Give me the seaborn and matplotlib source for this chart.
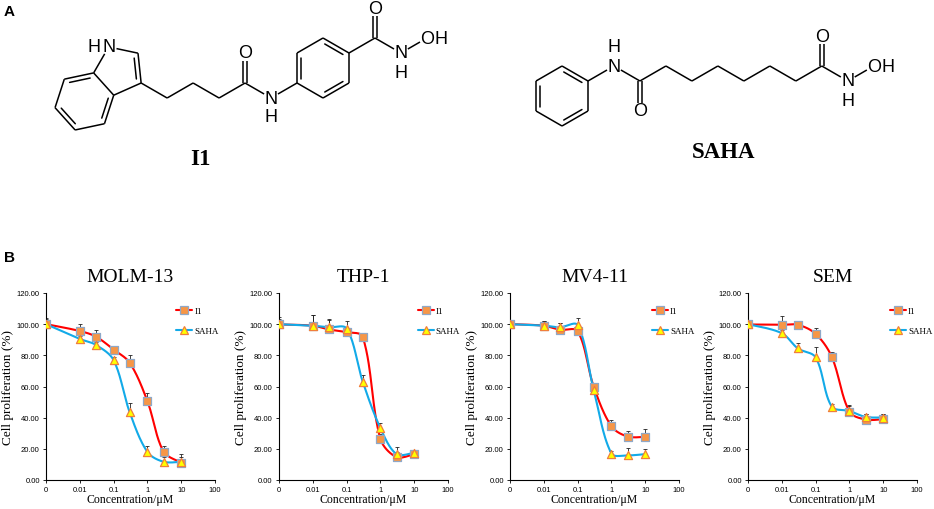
import numpy as np
import matplotlib
matplotlib.use("Agg")
import matplotlib.pyplot as plt
from matplotlib.lines import Line2D
from matplotlib.ticker import NullLocator, FormatStrFormatter
import seaborn as sns

# concentrations (uM) and readouts (% proliferation, mean and upper error)
conc = [0, 0.01, 0.03, 0.1, 0.3, 1, 3, 10]
xtick_vals = [0, 0.01, 0.1, 1, 10, 100]
xtick_labels = ["0", "0.01", "0.1", "1", "10", "100"]
yticks = [0, 20, 40, 60, 80, 100, 120]
cell_lines = ["MOLM-13", "THP-1", "MV4-11", "SEM"]
compounds = ["I1", "SAHA"]

molm13_i1 = [100, 95.6, 92.0, 83.7, 75.2, 50.6, 18.2, 11.2]
molm13_i1_err = [4.2, 4.4, 4.4, 2.5, 5.0, 5.0, 3.8, 5.5]
molm13_saha = [100, 90.5, 86.7, 76.9, 43.4, 18.0, 11.7, 11.7]
molm13_saha_err = [3.0, 2.0, 2.0, 2.0, 6.0, 3.6, 3.0, 3.0]

thp1_i1 = [99.8, 99.0, 96.6, 94.9, 91.9, 26.4, 14.7, 16.6]
thp1_i1_err = [5.0, 6.8, 6.0, 2.0, 1.5, 3.0, 3.0, 2.0]
thp1_saha = [100, 99.0, 98.0, 97.2, 63.1, 33.3, 16.6, 17.5]
thp1_saha_err = [3.0, 6.8, 5.2, 5.0, 4.0, 3.2, 4.7, 1.5]

mv411_i1 = [100, 99.0, 96.4, 95.5, 59.9, 34.5, 27.9, 27.7]
mv411_i1_err = [2.0, 3.3, 4.6, 2.0, 1.5, 4.0, 3.7, 5.0]
mv411_saha = [100, 99.1, 98.0, 99.4, 57.8, 17.0, 15.8, 16.6]
mv411_saha_err = [2.0, 3.0, 3.0, 4.6, 1.5, 1.5, 4.5, 3.0]

sem_i1 = [99.8, 99.6, 99.6, 93.8, 79.1, 43.9, 38.8, 39.0]
sem_i1_err = [2.0, 5.5, 2.3, 4.0, 3.2, 4.3, 3.4, 3.6]
sem_saha = [100, 94.2, 84.4, 78.7, 47.1, 44.3, 40.5, 40.1]
sem_saha_err = [2.0, 2.2, 3.6, 6.8, 1.5, 3.0, 1.7, 2.5]

i1_series = [(molm13_i1, molm13_i1_err), (thp1_i1, thp1_i1_err),
             (mv411_i1, mv411_i1_err), (sem_i1, sem_i1_err)]
saha_series = [(molm13_saha, molm13_saha_err), (thp1_saha, thp1_saha_err),
               (mv411_saha, mv411_saha_err), (sem_saha, sem_saha_err)]

I1_LINE, I1_FACE, I1_EDGE = "#FF0000", "#F79646", "#8FA8C8"
SAHA_LINE, SAHA_FACE, SAHA_EDGE = "#12AAE8", "#FFFF00", "#F07F3C"
SERIF = ["Liberation Serif", "DejaVu Serif"]
SANS = ["Liberation Sans", "DejaVu Sans"]

sns.set_style("ticks")
plt.rcParams["font.family"] = SANS
plt.rcParams["text.color"] = "black"
plt.rcParams["axes.labelcolor"] = "black"
plt.rcParams["xtick.color"] = "black"
plt.rcParams["ytick.color"] = "black"

W, H = 934, 510
fig = plt.figure(figsize=(W / 100, H / 100), dpi=100)

# ---------------- panel A: structures, drawn in pixel space ----------------
ax0 = fig.add_axes([0, 0, 1, 1])
ax0.set_xlim(0, W)
ax0.set_ylim(H, 0)
ax0.axis("off")

L = 30.0
LW = 1.1


def step(p, ang, length=L):
    a = np.radians(ang)
    return np.array([p[0] + length * np.cos(a), p[1] - length * np.sin(a)])


def walk(p0, start_ang, n):
    # polygon in screen coords, turning by 360/n at each vertex
    pts = [np.array(p0, float)]
    ang = start_ang
    for _ in range(n - 1):
        a = np.radians(ang)
        pts.append(pts[-1] + L * np.array([np.cos(a), np.sin(a)]))
        ang += 360.0 / n
    return pts


def hexagon(center):
    return [step(center, t) for t in (90, 150, 210, 270, 330, 30)]


def bond(a, b, sa=0.0, sb=0.0, off=0.0):
    a, b = np.asarray(a, float), np.asarray(b, float)
    d = (b - a) / np.linalg.norm(b - a)
    nrm = np.array([-d[1], d[0]])
    p = a + d * sa + nrm * off
    q = b - d * sb + nrm * off
    ax0.plot([p[0], q[0]], [p[1], q[1]], color="black", lw=LW,
             solid_capstyle="butt")


def inner(a, b, center, gap=4.3, trim=4.5):
    a, b = np.asarray(a, float), np.asarray(b, float)
    d = (b - a) / np.linalg.norm(b - a)
    nrm = np.array([-d[1], d[0]])
    if np.dot(np.asarray(center) - (a + b) / 2, nrm) < 0:
        nrm = -nrm
    p = a + d * trim + nrm * gap
    q = b - d * trim + nrm * gap
    ax0.plot([p[0], q[0]], [p[1], q[1]], color="black", lw=LW)


def atom(p, s, dx=0, dy=0):
    ax0.text(p[0] + dx, p[1] + dy, s, ha="center", va="center",
             fontsize=13, family=SANS, color="black")


def ring(pts, doubles):
    c = np.mean(pts, axis=0)
    n = len(pts)
    for i in range(n):
        bond(pts[i], pts[(i + 1) % n])
    for i, j in doubles:
        inner(pts[i], pts[j], c)


def carbonyl(c, o):
    bond(c, o, 0, 8, 2.2)
    bond(c, o, 0, 8, -2.2)
    atom(o, "O")


S = 8.0  # label clearance
HX = 14.5  # spacing of attached H / OH letters

# I1
hx = hexagon((323, 69))
ring(hx, [(1, 2), (0, 5), (4, 3)])
n_am = step(hx[2], 210)
c_am = step(n_am, 150)
bond(hx[2], n_am, 0, S)
bond(n_am, c_am, S, 0)
atom(n_am, "N")
atom(n_am, "H", dy=19)
carbonyl(c_am, step(c_am, 90))
chain = [c_am]
for k in range(4):
    chain.append(step(chain[-1], 210 if k % 2 == 0 else 150))
for p, q in zip(chain[:-1], chain[1:]):
    bond(p, q)
c3 = chain[-1]
pent = walk(c3, 156, 5)  # C3, C3a, C7a, N1, C2
benz = walk(pent[2], 48, 6)  # C7a, C3a, C4, C5, C6, C7
for i in range(5):
    a, b = pent[i], pent[(i + 1) % 5]
    bond(a, b, S if i == 3 else 0, S if i == 2 else 0)
inner(pent[4], pent[0], np.mean(pent, axis=0))
for i in range(1, 6):
    bond(benz[i], benz[(i + 1) % 6])
c6 = np.mean(benz, axis=0)
for i, j in [(5, 0), (3, 4), (1, 2)]:
    inner(benz[i], benz[j], c6)
atom(pent[3], "N")
atom(pent[3], "H", dx=-HX)
c_h = step(hx[5], 30)
bond(hx[5], c_h)
carbonyl(c_h, step(c_h, 90))
n_h = step(c_h, -30)
bond(c_h, n_h, 0, S)
atom(n_h, "N")
atom(n_h, "H", dy=19)
o_h = step(n_h, 30)
bond(n_h, o_h, 8, 8)
atom(o_h, "O")
atom(o_h, "H", dx=HX)

# SAHA
sx = hexagon((562, 97))
ring(sx, [(1, 2), (0, 5), (4, 3)])
n_s = step(sx[5], 30)
bond(sx[5], n_s, 0, S)
atom(n_s, "N")
atom(n_s, "H", dy=-20)
c1 = step(n_s, -30)
bond(n_s, c1, S, 0)
carbonyl(c1, step(c1, -90))
pts = [c1]
for k in range(7):
    pts.append(step(pts[-1], 30 if k % 2 == 0 else -30))
for p, q in zip(pts[:-1], pts[1:]):
    bond(p, q)
c8 = pts[-1]
carbonyl(c8, step(c8, 90))
n8 = step(c8, -30)
bond(c8, n8, 0, S)
atom(n8, "N")
atom(n8, "H", dy=19)
o9 = step(n8, 30)
bond(n8, o9, 8, 8)
atom(o9, "O")
atom(o9, "H", dx=HX)

ax0.text(200, 160, "I1", ha="center", va="center", fontsize=16.5,
         fontweight="bold", family=SERIF)
ax0.text(724, 153, "SAHA", ha="center", va="center", fontsize=16.5,
         fontweight="bold", family=SERIF)
ax0.text(4, 12, "A", ha="left", va="center", fontsize=11, fontweight="bold")
ax0.text(4, 258, "B", ha="left", va="center", fontsize=11, fontweight="bold")

# ---------------- panel B: dose-response curves ----------------


def excel_smooth(ax, xs, ys, n=30):
    # Bezier smoothing in screen space, tangents weighted by segment length
    pts = ax.transData.transform(np.column_stack([xs, ys]))
    p = np.vstack([pts[0], pts, pts[-1]])
    segs = []
    t = np.linspace(0, 1, n)[:, None]
    for i in range(1, len(p) - 2):
        p0, p1, p2, p3 = p[i - 1], p[i], p[i + 1], p[i + 2]
        d01 = np.linalg.norm(p1 - p0)
        d12 = np.linalg.norm(p2 - p1)
        d23 = np.linalg.norm(p3 - p2)
        w1 = d12 / (d01 + d12) / 3 if d01 > 0 else 1 / 6
        w2 = d12 / (d12 + d23) / 3 if d23 > 0 else 1 / 6
        k1 = p1 + (p2 - p0) * w1
        k2 = p2 - (p3 - p1) * w2
        seg = ((1 - t) ** 3 * p1 + 3 * (1 - t) ** 2 * t * k1
               + 3 * (1 - t) * t ** 2 * k2 + t ** 3 * p2)
        segs.append(seg if i == 1 else seg[1:])
    curve = ax.transData.inverted().transform(np.vstack(segs))
    return curve[:, 0], curve[:, 1]


lefts = [46, 279, 510, 748]
legend_x = [0.77, 0.82, 0.84, 0.84]
AX_W, AX_TOP, AX_BOT = 169, 294, 481

for k, name in enumerate(cell_lines):
    ax = fig.add_axes([lefts[k] / W, (H - AX_BOT) / H, AX_W / W,
                       (AX_BOT - AX_TOP) / H])
    ax.set_xscale("symlog", linthresh=0.01, linscale=0.9)
    ax.set_xlim(0, 100)
    ax.set_ylim(0, 120)
    ax.set_xticks(xtick_vals)
    ax.set_xticklabels(xtick_labels)
    ax.xaxis.set_minor_locator(NullLocator())
    ax.set_yticks(yticks)
    ax.yaxis.set_major_formatter(FormatStrFormatter("%.2f"))
    ax.tick_params(labelsize=5.5, length=2.5, width=0.6, pad=2,
                   colors="black")
    sns.despine(ax=ax)
    for sp in ("left", "bottom"):
        ax.spines[sp].set_linewidth(0.8)
        ax.spines[sp].set_color("black")
    ax.patch.set_alpha(0)

    specs = [(i1_series[k], I1_LINE, I1_FACE, I1_EDGE, "s", 30),
             (saha_series[k], SAHA_LINE, SAHA_FACE, SAHA_EDGE, "^", 34)]
    for (vals, err), lc, fc, ec, mk, ms in specs:
        ax.errorbar(conc, vals, yerr=[np.zeros(len(err)), err], fmt="none",
                    ecolor="#222222", elinewidth=0.6, capsize=1.6,
                    capthick=0.6, zorder=2)
        cx, cy = excel_smooth(ax, conc, vals)
        sns.lineplot(x=cx, y=cy, sort=False, estimator=None, color=lc,
                     lw=1.5, ax=ax, zorder=3)
        sns.scatterplot(x=conc, y=vals, marker=mk, s=ms, color=fc,
                        edgecolor=ec, linewidth=0.9, ax=ax, zorder=4)

    ax.set_title(name, family=SERIF, fontsize=14, pad=9, color="black")
    ax.set_xlabel("Concentration/μM", family=SERIF, fontsize=8.5, labelpad=0)
    ax.set_ylabel("Cell proliferation (%)", family=SERIF, fontsize=9.5,
                  labelpad=2)

    handles = [Line2D([0], [0], color=I1_LINE, lw=1.5, marker="s",
                      markersize=5.3, mfc=I1_FACE, mec=I1_EDGE, mew=0.9),
               Line2D([0], [0], color=SAHA_LINE, lw=1.5, marker="^",
                      markersize=5.8, mfc=SAHA_FACE, mec=SAHA_EDGE, mew=0.9)]
    ax.legend(handles, compounds, loc="upper left",
              bbox_to_anchor=(legend_x[k], 0.925), frameon=False,
              prop={"family": SERIF, "size": 6.5}, handlelength=1.8,
              handletextpad=0.2, labelspacing=1.3, borderpad=0,
              borderaxespad=0, numpoints=1, labelcolor="black")

fig.savefig("out.png", dpi=100)
